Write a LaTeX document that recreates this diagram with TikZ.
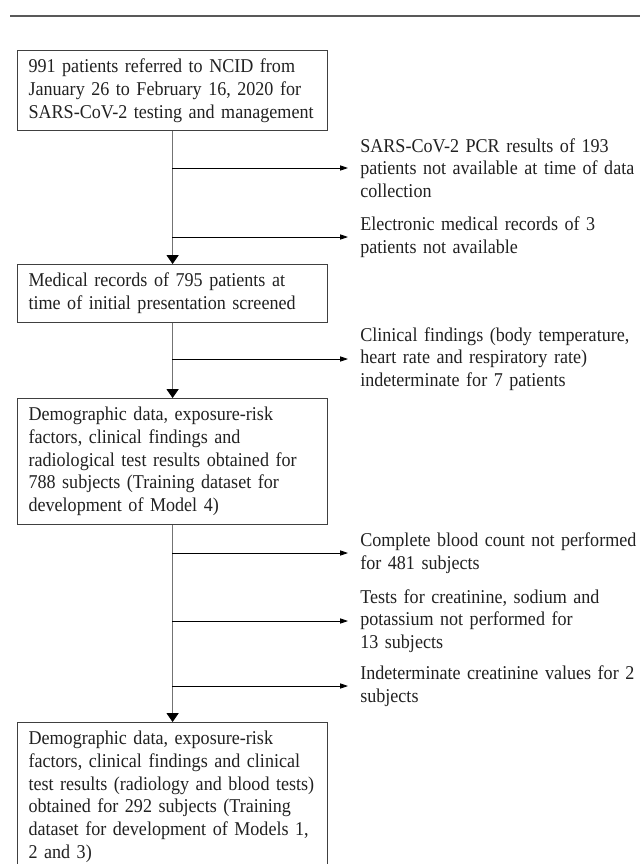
\documentclass[tikz,border=0pt]{standalone}
\usepackage{fontspec}
\setmainfont[FakeStretch=0.925]{Liberation Serif}
\usepackage{tikz}
\usetikzlibrary{arrows.meta}
\definecolor{boxgray}{rgb}{0.25,0.25,0.25}
\definecolor{rulegray}{rgb}{0.35,0.35,0.35}
\definecolor{linegray}{rgb}{0.45,0.45,0.45}
\definecolor{txtblack}{rgb}{0.13,0.13,0.13}

\begin{document}
\begin{tikzpicture}[x=0.025cm,y=-0.025cm,
  font=\fontsize{13.9}{16.2}\selectfont,
  stepbox/.style={draw=boxgray,line width=0.8pt,anchor=north west,text=txtblack,
    text width=7.2cm,inner xsep=0.275cm,inner ysep=0.21cm,align=left},
  sidenote/.style={anchor=west,text=txtblack,text width=8cm,inner xsep=0.3cm,inner ysep=0pt,align=left},
  down/.style={draw=linegray,line width=0.6pt,-{Triangle[length=0.22cm,width=0.3cm,color=black]}},
  side/.style={draw=black,line width=0.6pt,-{Triangle[length=0.2cm,width=0.13cm]}}]
\useasboundingbox (0,0) rectangle (640,864);
\draw [rulegray,line width=0.9pt] (10,16) -- (640,16);
% main boxes
\node [stepbox] (b1) at (17,50) {991 patients referred to NCID from\\January 26 to February 16, 2020 for\\SARS-CoV-2 testing and management};
\node [stepbox] (b2) at (17,264) {Medical records of 795 patients at\\time of initial presentation screened};
\node [stepbox] (b3) at (17,398) {Demographic data, exposure-risk\\factors, clinical findings and\\radiological test results obtained for\\788 subjects (Training dataset for\\development of Model 4)};
\node [stepbox] (b4) at (17,722) {Demographic data, exposure-risk\\factors, clinical findings and clinical\\test results (radiology and blood tests)\\obtained for 292 subjects (Training\\dataset for development of Models 1,\\2 and 3)};
% exclusions
\node [sidenote] (e1) at (348,168) {SARS-CoV-2 PCR results of 193\\patients not available at time of data\\collection};
\node [sidenote] (e2) at (348,237) {Electronic medical records of 3\\patients not available};
\node [sidenote] (e3) at (348,359) {Clinical findings (body temperature,\\heart rate and respiratory rate)\\indeterminate for 7 patients};
\node [sidenote] (e4) at (348,553) {Complete blood count not performed\\for 481 subjects};
\node [sidenote] (e5) at (348,621) {Tests for creatinine, sodium and\\potassium not performed for\\13 subjects};
\node [sidenote] (e6) at (348,686) {Indeterminate creatinine values for 2\\subjects};
\coordinate (c1) at (172,168);
\coordinate (c2) at (172,237);
\coordinate (c3) at (172,359);
\coordinate (c4) at (172,553);
\coordinate (c5) at (172,621);
\coordinate (c6) at (172,686);
% flow
\draw [down] (b1.south) -- (b2.north);
\draw [down] (b2.south) -- (b3.north);
\draw [down] (b3.south) -- (b4.north);
\draw [side] (c1) -- (e1.west);
\draw [side] (c2) -- (e2.west);
\draw [side] (c3) -- (e3.west);
\draw [side] (c4) -- (e4.west);
\draw [side] (c5) -- (e5.west);
\draw [side] (c6) -- (e6.west);
\end{tikzpicture}
\end{document}
